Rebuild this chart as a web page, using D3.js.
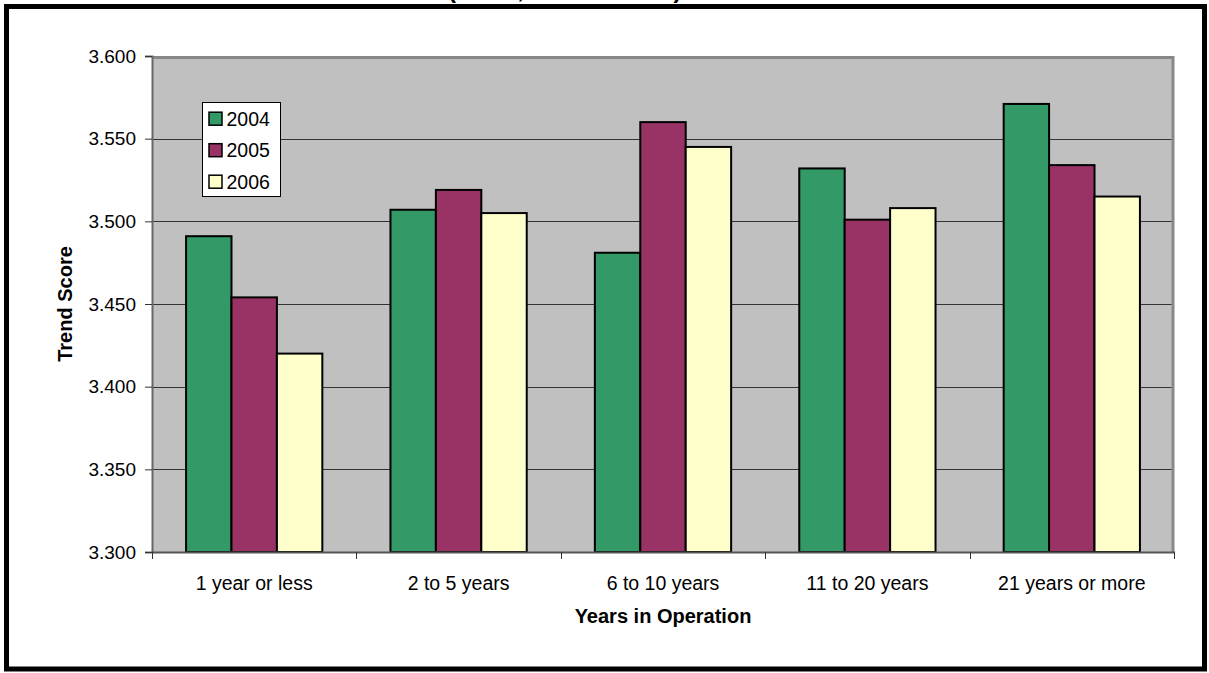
<!DOCTYPE html>
<html>
<head>
<meta charset="utf-8">
<script src="https://cdn.jsdelivr.net/npm/d3@7"></script>
<style>
  html, body { margin: 0; padding: 0; background: #fff; }
  svg { display: block; font-family: "Liberation Sans", Arial, sans-serif; }
</style>
</head>
<body>
<svg id="chart" width="1209" height="673"></svg>
<script>
const categories = ["1 year or less", "2 to 5 years", "6 to 10 years", "11 to 20 years", "21 years or more"];
const seriesNames = ["2004", "2005", "2006"];
const values2004 = [3.491, 3.507, 3.481, 3.532, 3.571];
const values2005 = [3.454, 3.519, 3.560, 3.501, 3.534];
const values2006 = [3.420, 3.505, 3.545, 3.508, 3.515];
const yTicks = [3.300, 3.350, 3.400, 3.450, 3.500, 3.550, 3.600];
const colors = ["#339966", "#993366", "#FFFFCC"];
const titleText = "(Mean, 2004 to 2006)";
const xTitle = "Years in Operation";
const yTitle = "Trend Score";

const seriesValues = [values2004, values2005, values2006];
const svg = d3.select("#chart");

const plot = { left: 152, right: 1174, top: 56, bottom: 552 };

// Outer border
svg.append("rect")
  .attr("x", 6.5).attr("y", 6.5)
  .attr("width", 1198).attr("height", 662.5)
  .attr("fill", "#fff").attr("stroke", "#000").attr("stroke-width", 5);

// Clipped title (only the bottom of the glyphs shows above the border)
svg.append("text")
  .attr("x", 448).attr("y", -2)
  .attr("font-size", 24).attr("font-weight", "bold")
  .attr("fill", "#000")
  .text(titleText);

const x0 = d3.scaleBand().domain(categories).range([plot.left, plot.right]).padding(0);
const x1 = d3.scaleBand().domain(seriesNames).range([0, x0.bandwidth()]).paddingInner(0).paddingOuter(0.75);
const y = d3.scaleLinear().domain([3.3, 3.6]).range([plot.bottom, plot.top]);

// Plot background
svg.append("rect")
  .attr("x", plot.left).attr("y", plot.top)
  .attr("width", plot.right - plot.left).attr("height", plot.bottom - plot.top)
  .attr("fill", "#C0C0C0");

// Gridlines
svg.append("g").selectAll("line")
  .data(yTicks.filter(t => t > 3.3 && t < 3.6))
  .join("line")
  .attr("x1", plot.left).attr("x2", plot.right)
  .attr("y1", d => Math.round(y(d)) + 0.5).attr("y2", d => Math.round(y(d)) + 0.5)
  .attr("stroke", "#333").attr("stroke-width", 1);

// Plot border (top & right, grey)
svg.append("path")
  .attr("d", `M${plot.left},${plot.top + 1.5}H${plot.right - 1}V${plot.bottom}`)
  .attr("fill", "none").attr("stroke", "#888").attr("stroke-width", 3);

// Bars
const groups = svg.append("g").selectAll("g")
  .data(categories)
  .join("g")
  .attr("transform", d => `translate(${x0(d)},0)`);

groups.selectAll("rect")
  .data((d, i) => seriesNames.map((s, j) => ({ s, j, v: seriesValues[j][i] })))
  .join("rect")
  .attr("x", d => x1(d.s))
  .attr("y", d => y(d.v))
  .attr("width", x1.bandwidth())
  .attr("height", d => y(3.3) - y(d.v))
  .attr("fill", d => colors[d.j])
  .attr("stroke", "#000").attr("stroke-width", 2);

// Y axis
const yAxis = d3.axisLeft(y).tickValues(yTicks).tickFormat(d3.format(".3f")).tickSize(7).tickPadding(9);
const gy = svg.append("g").attr("transform", `translate(${plot.left},0)`).call(yAxis);
gy.select(".domain").attr("stroke", "#666").attr("stroke-width", 2);
gy.selectAll(".tick line").attr("stroke", "#333");
gy.selectAll(".tick text").attr("font-size", 19).attr("fill", "#000")
  .attr("font-family", "Liberation Sans, Arial, sans-serif");

// X axis with ticks at category boundaries
const xAxisG = svg.append("g").attr("transform", `translate(0,${plot.bottom})`);
xAxisG.append("line")
  .attr("x1", plot.left).attr("x2", plot.right + 1)
  .attr("y1", 0.5).attr("y2", 0.5)
  .attr("stroke", "#555").attr("stroke-width", 2);
const boundaries = categories.map(c => x0(c)).concat([x0(categories[categories.length - 1]) + x0.bandwidth()]);
xAxisG.selectAll("line.tk")
  .data(boundaries)
  .join("line").attr("class", "tk")
  .attr("x1", d => Math.round(d) + 0.5).attr("x2", d => Math.round(d) + 0.5)
  .attr("y1", 0).attr("y2", 7)
  .attr("stroke", "#333");
xAxisG.selectAll("text")
  .data(categories)
  .join("text")
  .attr("x", d => x0(d) + x0.bandwidth() / 2)
  .attr("y", 38)
  .attr("text-anchor", "middle")
  .attr("font-size", 19.5).attr("fill", "#000")
  .text(d => d);

// Axis titles
svg.append("text")
  .attr("x", (plot.left + plot.right) / 2).attr("y", 623)
  .attr("text-anchor", "middle")
  .attr("font-size", 20).attr("font-weight", "bold")
  .text(xTitle);

svg.append("text")
  .attr("transform", `translate(72,${(plot.top + plot.bottom) / 2}) rotate(-90)`)
  .attr("text-anchor", "middle")
  .attr("font-size", 20).attr("font-weight", "bold")
  .text(yTitle);

// Legend
const legend = svg.append("g");
legend.append("rect")
  .attr("x", 202.5).attr("y", 102.5).attr("width", 78).attr("height", 94)
  .attr("fill", "#fff").attr("stroke", "#000").attr("stroke-width", 1);
const rowY = [118.7, 150.2, 181.7];
seriesNames.forEach((s, i) => {
  legend.append("rect")
    .attr("x", 209).attr("y", rowY[i] - 6.5).attr("width", 13).attr("height", 13)
    .attr("fill", colors[i]).attr("stroke", "#000").attr("stroke-width", 1.5);
  legend.append("text")
    .attr("x", 226.5).attr("y", rowY[i] + 7)
    .attr("font-size", 19.5).attr("fill", "#000")
    .text(s);
});
</script>
</body>
</html>
